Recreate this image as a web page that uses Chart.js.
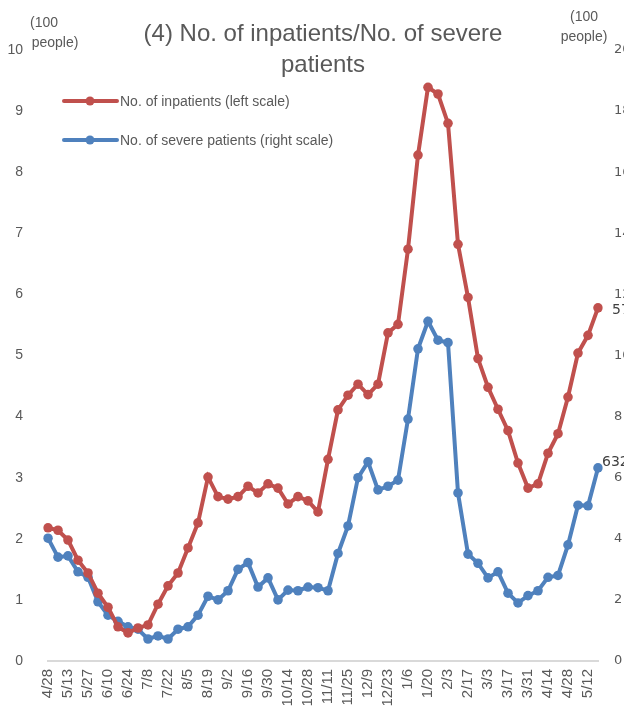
<!DOCTYPE html>
<html>
<head>
<meta charset="utf-8">
<script src="https://cdn.jsdelivr.net/npm/chart.js@4/dist/chart.umd.min.js"></script>
<style>
    html, body { margin: 0; padding: 0; background: #fff; overflow: hidden; }
    #wrap { width: 650px; height: 721px; }
</style>
</head>
<body>
<div id="wrap"><canvas id="chart" width="650" height="721"></canvas></div>
<script>
// weekly dates, every other one is printed on the axis
const weekLabels = [
    '4/28', '5/6', '5/13', '5/20', '5/27', '6/3', '6/10', '6/17', '6/24', '7/1',
    '7/8', '7/15', '7/22', '7/29', '8/5', '8/12', '8/19', '8/26', '9/2', '9/9',
    '9/16', '9/23', '9/30', '10/7', '10/14', '10/21', '10/28', '11/4', '11/11', '11/18',
    '11/25', '12/2', '12/9', '12/16', '12/23', '12/30', '1/6', '1/13', '1/20', '1/27',
    '2/3', '2/10', '2/17', '2/24', '3/3', '3/10', '3/17', '3/24', '3/31', '4/7',
    '4/14', '4/21', '4/28', '5/5', '5/12', '5/19'
];

// No. of inpatients (left scale, 100 people)
const inpatients = [
    2.18, 2.14, 1.98, 1.65, 1.44, 1.11, 0.88, 0.56, 0.46, 0.54,
    0.59, 0.93, 1.23, 1.44, 1.85, 2.26, 3.01, 2.69, 2.65, 2.69,
    2.86, 2.75, 2.90, 2.83, 2.57, 2.69, 2.62, 2.44, 3.30, 4.11,
    4.35, 4.53, 4.36, 4.53, 5.37, 5.51, 6.74, 8.28, 9.39, 9.28,
    8.80, 6.82, 5.95, 4.95, 4.48, 4.12, 3.77, 3.24, 2.83, 2.90,
    3.40, 3.72, 4.32, 5.04, 5.33, 5.78
];

// No. of severe patients (right scale, 100 people)
const severe = [
    4.02, 3.40, 3.44, 2.92, 2.74, 1.94, 1.50, 1.30, 1.12, 1.04,
    0.72, 0.82, 0.72, 1.04, 1.12, 1.50, 2.12, 2.00, 2.30, 3.00,
    3.22, 2.42, 2.72, 2.00, 2.32, 2.30, 2.42, 2.40, 2.30, 3.52,
    4.42, 6.00, 6.52, 5.60, 5.72, 5.92, 7.92, 10.22, 11.12, 10.50,
    10.42, 5.50, 3.50, 3.20, 2.72, 2.92, 2.22, 1.90, 2.14, 2.30,
    2.74, 2.80, 3.80, 5.10, 5.08, 6.32
];

// labels on the last points
const endLabels = ['578', '632'];

const seriesNames = ['No. of inpatients (left scale)', 'No. of severe patients (right scale)'];
const titleLines = ['(4) No. of inpatients/No. of severe', 'patients'];

const RED = '#C0504D';
const BLUE = '#4F81BD';
const TEXT = '#595959';

// title, unit captions, legend and end labels drawn by hand
const decorations = {
    id: 'decorations',
    afterDraw(chart) {
        const ctx = chart.ctx;
        ctx.save();
        ctx.fillStyle = TEXT;
        ctx.textBaseline = 'middle';

        ctx.font = '24px "Liberation Sans", Arial, sans-serif';
        ctx.textAlign = 'center';
        ctx.fillText(titleLines[0], 323, 34);
        ctx.fillText(titleLines[1], 323, 65);

        ctx.font = '14px "Liberation Sans", Arial, sans-serif';
        ctx.fillText('(100', 44, 23);
        ctx.fillText('people)', 55, 43);
        ctx.fillText('(100', 584, 17);
        ctx.fillText('people)', 584, 37);

        // legend
        const legendY = [101, 140];
        const colors = [RED, BLUE];
        legendY.forEach((y, i) => {
            ctx.strokeStyle = colors[i];
            ctx.lineWidth = 4;
            ctx.lineCap = 'round';
            ctx.beginPath();
            ctx.moveTo(64, y);
            ctx.lineTo(117, y);
            ctx.stroke();
            ctx.fillStyle = colors[i];
            ctx.beginPath();
            ctx.arc(90, y, 4.5, 0, Math.PI * 2);
            ctx.fill();
            ctx.fillStyle = TEXT;
            ctx.textAlign = 'left';
            ctx.fillText(seriesNames[i], 120, y + 1);
        });

        // values on the last points
        ctx.font = '14px "DejaVu Sans", sans-serif';
        ctx.fillStyle = '#404040';
        const last = weekLabels.length - 1;
        const p0 = chart.getDatasetMeta(0).data[last];
        const p1 = chart.getDatasetMeta(1).data[last];
        ctx.fillText(endLabels[0], p0.x + 14, p0.y + 3);
        ctx.fillText(endLabels[1], p1.x + 4, p1.y - 6);
        ctx.restore();
    }
};

const tickFont = { family: '"Liberation Sans", Arial, sans-serif', size: 14 };

new Chart(document.getElementById('chart'), {
    type: 'line',
    data: {
        labels: weekLabels,
        datasets: [{
            label: seriesNames[0],
            data: inpatients,
            yAxisID: 'y',
            borderColor: RED,
            backgroundColor: RED,
            borderWidth: 4,
            pointRadius: 4.8,
            pointBorderWidth: 0,
            tension: 0
        }, {
            label: seriesNames[1],
            data: severe,
            yAxisID: 'y1',
            borderColor: BLUE,
            backgroundColor: BLUE,
            borderWidth: 4,
            pointRadius: 4.8,
            pointBorderWidth: 0,
            tension: 0
        }]
    },
    options: {
        responsive: false,
        animation: false,
        layout: { padding: { top: 50, left: 0, right: 0, bottom: 0 } },
        plugins: {
            legend: { display: false },
            title: { display: false },
            tooltip: { enabled: false }
        },
        scales: {
            x: {
                offset: false,
                grid: { display: false, drawTicks: false },
                border: { display: true, color: '#D9D9D9', width: 2 },
                ticks: {
                    autoSkip: false,
                    maxRotation: 90,
                    minRotation: 90,
                    padding: 8,
                    color: TEXT,
                    font: { family: '"Liberation Sans", Arial, sans-serif', size: 15 },
                    callback: function (v, i) { return i % 2 === 0 ? this.getLabelForValue(v) : ''; }
                },
                afterFit: s => { s.height = 60; }
            },
            y: {
                position: 'left',
                min: 0,
                max: 10,
                grid: { display: false, drawTicks: false },
                border: { display: false },
                ticks: { stepSize: 1, padding: 25, color: TEXT, font: tickFont },
                afterFit: s => { s.width = 48; }
            },
            y1: {
                position: 'right',
                min: 0,
                max: 20,
                grid: { display: false, drawTicks: false },
                border: { display: false },
                ticks: { stepSize: 2, padding: 16, color: TEXT, font: { family: '"DejaVu Sans", sans-serif', size: 13 } },
                afterFit: s => { s.width = 52; }
            }
        }
    },
    plugins: [decorations]
});
</script>
</body>
</html>
